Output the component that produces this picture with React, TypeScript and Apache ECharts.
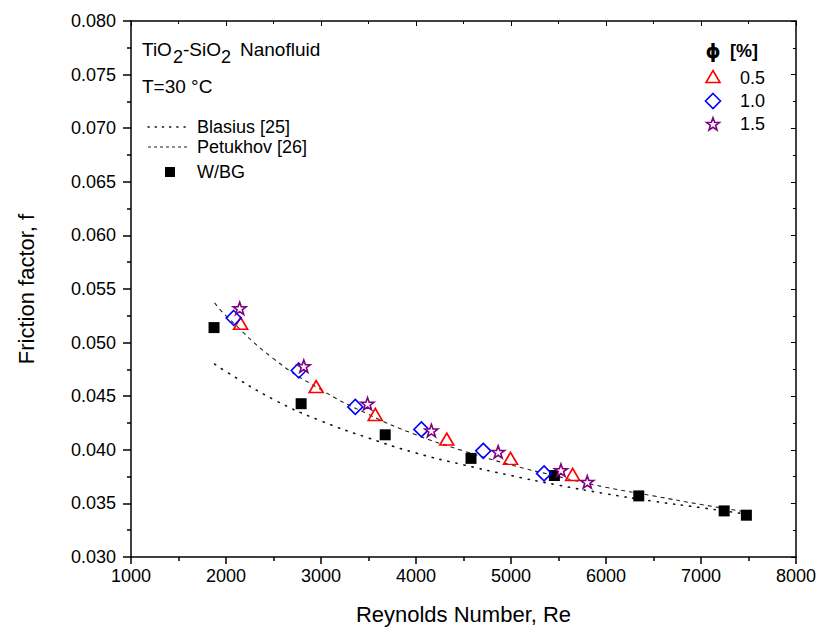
import React, { useEffect, useRef } from "react";
import * as echarts from "echarts";

// ---- data ----
const reW = [1874, 2791, 3676, 4579, 5457, 6345, 7244, 7478];
const fW = [0.0514, 0.0443, 0.0414, 0.0392, 0.0376, 0.0357, 0.0343, 0.0339];

const re05 = [2154, 2949, 3571, 4324, 4995, 5649];
const f05 = [0.0518, 0.0459, 0.0433, 0.041, 0.0392, 0.0377];

const re10 = [2081, 2766, 3361, 4057, 4708, 5348];
const f10 = [0.0523, 0.0474, 0.044, 0.0419, 0.0399, 0.0378];

const re15 = [2144, 2819, 3490, 4162, 4865, 5526, 5803];
const f15 = [0.0532, 0.0478, 0.0443, 0.0418, 0.0398, 0.0381, 0.037];

const reCurve = [1880, 2000, 2500, 3000, 3500, 4000, 4500, 5000, 5500, 6000, 6500, 7000, 7480];
const fBlasius = [0.048, 0.0473, 0.0447, 0.0427, 0.0411, 0.0397, 0.0386, 0.0376, 0.0367, 0.0359, 0.0352, 0.0346, 0.034];
const fPetukhov = [0.0537, 0.0525, 0.0485, 0.0456, 0.0433, 0.0414, 0.0399, 0.0386, 0.0375, 0.0365, 0.0357, 0.0349, 0.0342];

const xTicks = { min: 1000, max: 8000, interval: 1000 };
const yTicks = { min: 0.03, max: 0.08, interval: 0.005 };

const FONT = "'Liberation Sans', Arial, Helvetica, sans-serif";

const zip = (xs: number[], ys: number[]) => xs.map((x, i) => [x, ys[i]]);

const STAR_PATH =
  "path://M0,-10 L2.35,-3.24 L9.51,-3.09 L3.8,1.24 L5.88,8.09 L0,4 L-5.88,8.09 L-3.8,1.24 L-9.51,-3.09 L-2.35,-3.24 Z";

function starPoints(cx: number, cy: number, R: number, r: number) {
  const pts: number[][] = [];
  for (let i = 0; i < 10; i++) {
    const a = -Math.PI / 2 + (i * Math.PI) / 5;
    const rad = i % 2 === 0 ? R : r;
    pts.push([cx + rad * Math.cos(a), cy + rad * Math.sin(a)]);
  }
  return pts;
}

export default function App() {
  const ref = useRef<HTMLDivElement>(null);

  useEffect(() => {
    if (!ref.current) return;
    const chart = echarts.init(ref.current, undefined, { renderer: "svg" });

    const axisLineStyle = { color: "#000", width: 1.5 };

    const txt = (text: string, x: number, y: number, size = 18, extra: any = {}) => ({
      type: "text",
      x,
      y,
      style: {
        text,
        fontSize: size,
        fontFamily: FONT,
        fill: "#000",
        verticalAlign: "middle",
        align: "left",
        ...extra,
      },
    });

    const option: any = {
      animation: false,
      backgroundColor: "#fff",
      grid: { left: 131, right: 21, top: 21, bottom: 71 },
      xAxis: [
        {
          type: "value",
          ...xTicks,
          position: "bottom",
          name: "Reynolds Number, Re",
          nameLocation: "middle",
          nameGap: 46,
          nameTextStyle: { fontSize: 22, color: "#000", fontFamily: FONT },
          axisLine: { show: true, onZero: false, lineStyle: axisLineStyle },
          axisTick: { show: true, inside: false, length: 7, lineStyle: axisLineStyle },
          minorTick: { show: true, splitNumber: 2, length: 4, lineStyle: axisLineStyle },
          axisLabel: {
            fontSize: 18,
            color: "#000",
            margin: 10,
            fontFamily: FONT,
            formatter: (v: number) => String(Math.round(v)),
          },
          splitLine: { show: false },
          minorSplitLine: { show: false },
        },
        {
          type: "value",
          ...xTicks,
          position: "top",
          axisLine: { show: true, onZero: false, lineStyle: axisLineStyle },
          axisTick: { show: true, inside: true, length: 5, lineStyle: { color: "#000", width: 1 } },
          minorTick: { show: true, splitNumber: 2, length: 3, lineStyle: { color: "#000", width: 1 } },
          axisLabel: { show: false },
          splitLine: { show: false },
        },
      ],
      yAxis: [
        {
          type: "value",
          ...yTicks,
          position: "left",
          name: "Friction factor, f",
          nameLocation: "middle",
          nameGap: 94,
          nameRotate: 90,
          nameTextStyle: { fontSize: 22, color: "#000", fontFamily: FONT },
          axisLine: { show: true, onZero: false, lineStyle: axisLineStyle },
          axisTick: { show: true, inside: false, length: 8, lineStyle: axisLineStyle },
          minorTick: { show: true, splitNumber: 2, length: 4, lineStyle: axisLineStyle },
          axisLabel: {
            fontSize: 18,
            color: "#000",
            margin: 15,
            fontFamily: FONT,
            formatter: (v: number) => v.toFixed(3),
          },
          splitLine: { show: false },
        },
        {
          type: "value",
          ...yTicks,
          position: "right",
          axisLine: { show: true, onZero: false, lineStyle: axisLineStyle },
          axisTick: { show: true, inside: true, length: 5, lineStyle: { color: "#000", width: 1 } },
          minorTick: { show: true, splitNumber: 2, length: 3, lineStyle: { color: "#000", width: 1 } },
          axisLabel: { show: false },
          splitLine: { show: false },
        },
      ],
      series: [
        {
          name: "Blasius [25]",
          type: "line",
          smooth: true,
          showSymbol: false,
          data: zip(reCurve, fBlasius),
          lineStyle: { color: "#111", width: 1.6, type: [1.2, 7], cap: "round" },
          z: 2,
        },
        {
          name: "Petukhov [26]",
          type: "line",
          smooth: true,
          showSymbol: false,
          data: zip(reCurve, fPetukhov),
          lineStyle: { color: "#222", width: 1.1, type: [4, 4] },
          z: 2,
        },
        {
          name: "W/BG",
          type: "scatter",
          symbol: "rect",
          symbolSize: 11,
          data: zip(reW, fW),
          itemStyle: { color: "#000", opacity: 1 },
          z: 3,
        },
        {
          name: "0.5",
          type: "scatter",
          symbol: "triangle",
          symbolSize: [14, 12],
          data: zip(re05, f05),
          itemStyle: { color: "rgba(255,255,255,0)", borderColor: "#ff0000", borderWidth: 1.6, opacity: 1 },
          z: 4,
        },
        {
          name: "1.0",
          type: "scatter",
          symbol: "diamond",
          symbolSize: [15, 15],
          data: zip(re10, f10),
          itemStyle: { color: "rgba(255,255,255,0)", borderColor: "#0000ff", borderWidth: 1.6, opacity: 1 },
          z: 4,
        },
        {
          name: "1.5",
          type: "scatter",
          symbol: STAR_PATH,
          symbolKeepAspect: true,
          symbolSize: 13,
          data: zip(re15, f15),
          itemStyle: { color: "#fff", borderColor: "#800080", borderWidth: 1.6, opacity: 1 },
          z: 5,
        },
      ],
      graphic: [
        // left annotation block
        txt("TiO", 142, 49, 19),
        txt("2", 173, 57, 18),
        txt("-SiO", 183, 49, 19),
        txt("2", 221, 57, 18),
        txt("Nanofluid", 240, 49, 19),
        txt("T=30 °C", 142, 86, 19),
        {
          type: "line",
          shape: { x1: 148, y1: 127, x2: 190, y2: 127 },
          style: { stroke: "#111", lineWidth: 1.4, lineDash: [1.2, 6], lineCap: "round" },
        },
        txt("Blasius [25]", 197, 127),
        {
          type: "line",
          shape: { x1: 148, y1: 147, x2: 190, y2: 147 },
          style: { stroke: "#222", lineWidth: 1, lineDash: [3, 3] },
        },
        txt("Petukhov [26]", 197, 147),
        {
          type: "rect",
          shape: { x: 165, y: 167, width: 10, height: 10 },
          style: { fill: "#000" },
        },
        txt("W/BG", 197, 172),
        // right legend
        txt("ϕ", 713, 51, 19, { fontWeight: "bold", align: "center", fontFamily: "'DejaVu Sans', " + FONT }),
        txt("[%]", 730, 51, 18, { fontWeight: "bold" }),
        {
          type: "polygon",
          shape: { points: [[713, 70.5], [720, 82.5], [706, 82.5]] },
          style: { fill: "none", stroke: "#ff0000", lineWidth: 1.6 },
        },
        txt("0.5", 740, 78),
        {
          type: "polygon",
          shape: { points: [[713, 93.5], [720.5, 101], [713, 108.5], [705.5, 101]] },
          style: { fill: "none", stroke: "#0000ff", lineWidth: 1.6 },
        },
        txt("1.0", 740, 101),
        {
          type: "polygon",
          shape: { points: starPoints(713, 124.5, 6.8, 2.8) },
          style: { fill: "#fff", stroke: "#800080", lineWidth: 1.6 },
        },
        txt("1.5", 740, 124),
      ],
    };

    chart.setOption(option);
    return () => chart.dispose();
  }, []);

  return (
    <div
      ref={ref}
      style={{ position: "fixed", left: 0, top: 0, width: 819, height: 630, background: "#fff" }}
    />
  );
}
